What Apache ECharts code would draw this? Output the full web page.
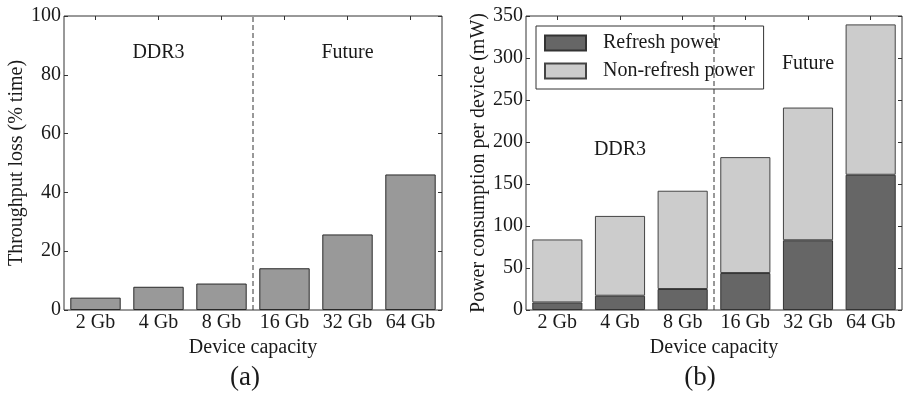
<!DOCTYPE html>
<html><head><meta charset="utf-8">
<script src="https://cdn.jsdelivr.net/npm/echarts@6/dist/echarts.min.js"></script>
<style>html,body{margin:0;padding:0;background:#fff}#c{width:906px;height:398px}</style>
</head><body><div id="c"></div>
<script>
const categories = ['2 Gb', '4 Gb', '8 Gb', '16 Gb', '32 Gb', '64 Gb'];
const throughputLoss = [4.2, 7.9, 9.0, 14.2, 25.7, 46.1];
const refreshPower = [9, 17, 25, 44, 83, 161];
const nonRefreshPower = [75, 95, 117, 138, 158, 179];
const firstFutureIndex = 3;
const yMaxA = 100, yStepA = 20;
const yMaxB = 350, yStepB = 50;
const groupLabels = ['DDR3', 'Future'];

const FONT = '"Liberation Serif", "Times New Roman", serif';
const TXT = '#1a1a1a';
const LINE = '#333';
const divider = firstFutureIndex - 0.5;

function catAxis(gi, pos, showLabels, name) {
  return {
    type: 'category', gridIndex: gi, position: pos, data: categories,
    axisLine: { show: false, onZero: false },
    axisTick: { show: true, inside: true, alignWithLabel: true, length: 4, lineStyle: { color: LINE } },
    axisLabel: { show: showLabels, interval: 0, margin: 3, fontFamily: FONT, fontSize: 20, color: TXT },
    name: name || '', nameLocation: 'middle', nameGap: 17,
    nameTextStyle: { fontFamily: FONT, fontSize: 20, color: TXT, verticalAlign: 'top' }
  };
}
function hiddenX(gi) {
  return { type: 'value', gridIndex: gi, min: -0.5, max: categories.length - 0.5, show: false,
           axisLine: { onZero: false } };
}
function valAxis(gi, pos, max, step, showLabels, name, gap) {
  return {
    type: 'value', gridIndex: gi, position: pos, min: 0, max: max, interval: step,
    axisLine: { show: false, onZero: false },
    splitLine: { show: false },
    axisTick: { show: true, inside: true, length: 4, lineStyle: { color: LINE } },
    axisLabel: { show: showLabels, margin: 3, fontFamily: FONT, fontSize: 20, color: TXT },
    name: name || '', nameLocation: 'middle', nameGap: gap || 35,
    nameTextStyle: { fontFamily: FONT, fontSize: 20, color: TXT }
  };
}
function dividerSeries(xi, yi, max, marks) {
  return {
    type: 'line', xAxisIndex: xi, yAxisIndex: yi, silent: true, symbol: 'none',
    data: [[divider, 0], [divider, max]],
    lineStyle: { color: LINE, width: 1, type: [5, 3] },
    markPoint: {
      symbol: 'circle', symbolSize: 0, silent: true,
      label: { show: true, position: 'inside', fontFamily: FONT, fontSize: 20, color: TXT },
      data: marks.map(m => ({ coord: m.coord, value: m.text, label: { formatter: m.text } }))
    },
    z: 5
  };
}

const chart = echarts.init(document.getElementById('c'), null, { renderer: 'canvas' });
chart.setOption({
  animation: false,
  backgroundColor: '#fff',
  grid: [
    { left: 64, right: 464, top: 16, bottom: 88, show: true, borderColor: LINE, borderWidth: 1, backgroundColor: 'transparent' },
    { left: 526, right: 4, top: 16, bottom: 88, show: true, borderColor: LINE, borderWidth: 1, backgroundColor: 'transparent' }
  ],
  legend: {
    orient: 'vertical', left: 536, top: 26,
    data: ['Refresh power', 'Non-refresh power'],
    icon: 'rect',
    itemWidth: 41, itemHeight: 15, itemGap: 8,
    padding: [7, 9, 8, 8],
    borderColor: LINE, borderWidth: 1, backgroundColor: '#fff',
    textStyle: { fontFamily: FONT, fontSize: 20, color: TXT, padding: [0, 0, 0, 12] },
    selectedMode: false
  },
  xAxis: [
    catAxis(0, 'bottom', true, 'Device capacity'),
    catAxis(0, 'top', false),
    hiddenX(0),
    catAxis(1, 'bottom', true, 'Device capacity'),
    catAxis(1, 'top', false),
    hiddenX(1)
  ],
  yAxis: [
    valAxis(0, 'left', yMaxA, yStepA, true, 'Throughput loss (% time)', 32),
    valAxis(0, 'right', yMaxA, yStepA, false),
    valAxis(1, 'left', yMaxB, yStepB, true, 'Power consumption per device (mW)', 34),
    valAxis(1, 'right', yMaxB, yStepB, false)
  ],
  series: [
    {
      type: 'bar', xAxisIndex: 0, yAxisIndex: 0, data: throughputLoss, barWidth: '80%',
      itemStyle: { color: '#999999', borderColor: '#2a2a2a', borderWidth: 1 }
    },
    dividerSeries(2, 0, yMaxA, [
      { coord: [1, 87.6], text: groupLabels[0] },
      { coord: [4, 87.6], text: groupLabels[1] }
    ]),
    {
      name: 'Refresh power', type: 'bar', stack: 'p', xAxisIndex: 3, yAxisIndex: 2, data: refreshPower, barWidth: '80%',
      itemStyle: { color: '#666666', borderColor: '#333', borderWidth: 1 }
    },
    {
      name: 'Non-refresh power', type: 'bar', stack: 'p', xAxisIndex: 3, yAxisIndex: 2, data: nonRefreshPower, barWidth: '80%',
      itemStyle: { color: '#cccccc', borderColor: '#444', borderWidth: 1 }
    },
    dividerSeries(5, 2, yMaxB, [
      { coord: [1, 191], text: groupLabels[0] },
      { coord: [4, 292.7], text: groupLabels[1] }
    ])
  ],
  graphic: [
    { type: 'text', x: 245, y: 378, style: { text: '(a)', fontFamily: FONT, fontSize: 27, fill: TXT, align: 'center', verticalAlign: 'middle' } },
    { type: 'text', x: 700, y: 378, style: { text: '(b)', fontFamily: FONT, fontSize: 27, fill: TXT, align: 'center', verticalAlign: 'middle' } }
  ]
});
</script></body></html>
